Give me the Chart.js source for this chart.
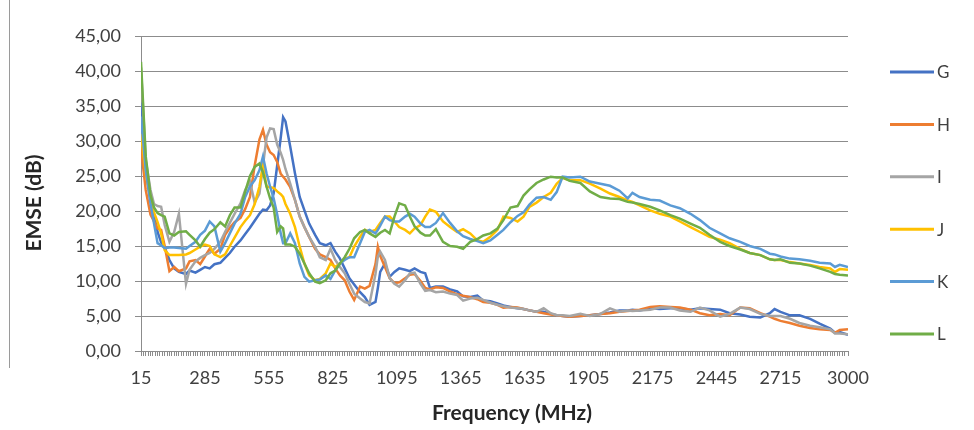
<!DOCTYPE html>
<html>
<head>
<meta charset="utf-8">
<script src="https://cdn.jsdelivr.net/npm/chart.js@4.4.1/dist/chart.umd.min.js"></script>
<style>
html, body { margin: 0; padding: 0; background: #fff; }
</style>
</head>
<body>
<canvas id="emse-graph" width="974" height="430"></canvas>
<script>
// frequency points (MHz)
var freq = [15, 35, 55, 70, 85, 100, 115,
  135, 155, 175, 205, 220, 245, 265, 285, 305, 325, 350, 370, 390, 410, 435, 455, 475, 495, 515,
  530, 545, 560, 575, 590, 605, 615, 625,
  645, 665, 685, 705, 725, 750, 770, 795, 815, 835, 855, 875, 895, 915, 940, 960, 980, 1005,
  1015, 1025,
  1045, 1065, 1085, 1105, 1130, 1150, 1170, 1195, 1215, 1235,
  1260, 1290, 1320, 1350, 1375, 1405, 1435, 1460, 1490, 1520, 1545, 1575, 1605, 1630, 1655, 1685, 1715, 1745, 1770, 1795, 1825,
  1870, 1910, 1955, 1995, 2035,
  2070, 2090,
  2120, 2165, 2205, 2250, 2290, 2335, 2375, 2415, 2460, 2500, 2545, 2585, 2630, 2670,
  2690,
  2715, 2755, 2795, 2840, 2880, 2925,
  2945, 2965, 3000];

var seriesG = [35.5, 26.0, 21.5, 19.5, 17.0, 15.5, 14.8,
  13.0, 11.8, 11.3, 11.0, 11.5, 11.2, 11.6, 12.0, 11.8, 12.4, 12.6, 13.3, 14.0, 14.9, 15.8, 16.7, 17.6, 18.6, 19.6,
  20.2, 20.1, 20.8, 22.5, 26.5, 30.5, 33.4, 32.8,
  29.2, 25.4, 22.0, 20.1, 18.2, 16.6, 15.4, 15.1, 15.4, 14.2, 13.2, 11.8, 10.4, 9.5, 8.4, 7.7, 6.6, 7.0,
  9.0, 11.3,
  12.5, 10.6, 11.3, 11.8, 11.6, 11.4, 11.8, 11.3, 11.1, 9.0,
  9.2, 9.2, 8.8, 8.5, 7.8, 7.7, 7.9, 7.2, 7.1, 6.8, 6.5, 6.3, 6.1, 6.0, 5.8, 5.6, 5.6, 5.3, 5.1, 5.0, 4.9,
  5.0, 5.1, 5.3, 5.5, 5.8,
  5.8, 5.9,
  5.8, 6.1, 6.0, 6.1, 6.1, 5.9, 6.1, 6.0, 5.9, 5.4, 5.2, 4.9, 4.8, 5.4,
  6.0,
  5.6, 5.1, 5.1, 4.6, 3.9, 3.2,
  2.6, 2.7, 2.3];

var seriesH = [29.0, 23.0, 19.5, 18.5, 17.5, 17.3, 15.0,
  11.4, 12.0, 11.4, 11.8, 12.8, 13.0, 12.4, 13.5, 14.6, 13.9, 14.6, 16.6, 17.6, 18.4, 19.0, 20.3, 22.0, 26.5, 30.2,
  31.6, 29.5, 28.4, 28.0, 27.0, 25.3, 24.9, 24.5,
  23.4, 21.6, 19.2, 17.7, 16.3, 14.6, 13.8, 13.4, 13.0, 11.8, 10.8, 10.1, 8.5, 7.3, 9.2, 8.9, 9.3, 12.4,
  14.9, 13.6,
  12.0, 10.4, 9.7, 9.8, 10.4, 10.9, 11.0, 10.0, 9.0, 8.8,
  9.1, 9.0, 8.5, 8.1, 7.9, 7.7, 7.4, 7.0, 6.9, 6.6, 6.2, 6.3, 6.2, 6.0, 5.8, 5.6, 5.4, 5.2, 5.1, 5.0, 4.9,
  5.0, 5.1, 5.3, 5.4, 5.6,
  5.7, 5.8,
  5.9, 6.3, 6.4, 6.3, 6.2, 5.9, 5.4, 5.1, 5.3, 5.1, 6.2, 6.1, 5.4, 4.9,
  4.6,
  4.3, 4.0, 3.6, 3.3, 3.1, 3.0,
  2.6, 3.0, 3.1];

var seriesI = [40.5, 27.3, 23.0, 21.0, 20.7, 20.6, 18.0,
  15.6, 17.0, 19.6, 9.6, 11.6, 12.8, 13.3, 13.7, 14.0, 14.6, 15.6, 17.0, 18.3, 19.6, 21.1, 23.0, 24.2, 21.2, 22.5,
  26.5, 30.5, 31.8, 31.7, 29.5, 28.3, 27.3, 26.0,
  23.9, 21.6, 19.2, 17.7, 16.3, 14.9, 13.4, 13.0, 14.6, 13.0, 12.0, 11.1, 9.6, 8.2, 7.5, 7.0, 6.8, 11.0,
  13.5, 14.2,
  13.0, 10.4, 9.6, 9.2, 10.1, 11.1, 11.2, 9.6, 8.6, 8.7,
  8.4, 8.5, 8.2, 8.0, 7.2, 7.5, 7.6, 7.3, 6.9, 6.6, 6.4, 6.2, 6.1, 6.0, 5.8, 5.6, 6.1, 5.4, 5.1, 5.1, 5.0,
  5.3, 5.0, 5.3, 6.1, 5.6,
  5.8, 5.7,
  5.8, 5.9, 6.2, 6.2, 5.8, 5.6, 6.2, 5.8, 4.9, 5.3, 6.2, 6.0, 5.3, 5.0,
  5.0,
  5.0, 4.6, 4.0, 3.6, 3.4, 3.1,
  2.5, 2.5, 2.4];

var seriesJ = [31.0, 25.4, 21.6, 19.8, 18.4, 16.8, 14.4,
  13.7, 13.7, 13.7, 13.8, 14.0, 14.5, 14.9, 15.2, 15.0, 13.8, 13.4, 13.8, 15.0, 16.2, 17.7, 18.6, 19.4, 21.0, 23.5,
  26.5, 23.5, 23.4, 23.3, 22.8, 22.4, 22.0, 21.0,
  19.6, 17.7, 14.9, 12.5, 10.8, 10.1, 10.3, 11.1, 12.5, 12.0, 12.5, 13.2, 13.4, 14.9, 16.3, 17.3, 17.0, 17.3,
  17.8, 18.3,
  19.2, 19.2, 18.5, 17.7, 17.3, 16.8, 17.5, 18.0, 19.2, 20.2,
  19.9, 18.5, 17.7, 17.0, 17.4, 16.8, 15.8, 15.6, 16.3, 17.3, 19.2, 19.0, 18.5, 19.2, 20.6, 21.2, 22.0, 22.6, 23.9, 24.7, 24.4,
  24.4, 23.9, 23.2, 22.5, 22.0,
  21.5, 21.3,
  20.8, 20.1, 19.6, 19.2, 18.5, 17.7, 17.0, 16.3, 15.9, 15.4, 14.6, 14.0, 13.7, 13.1,
  13.0,
  13.0, 12.7, 12.5, 12.3, 12.0, 11.8,
  11.3, 11.7, 11.6];

var seriesK = [33.5, 25.8, 21.1, 18.2, 15.4, 15.1, 14.7,
  14.8, 14.8, 14.7, 14.6, 15.0, 15.6, 16.6, 17.2, 18.5, 17.8, 14.2, 15.4, 16.8, 18.2, 19.6, 22.0, 23.5, 24.4, 25.8,
  27.8, 25.4, 23.5, 21.8, 19.5, 16.8, 15.4, 15.4,
  16.8, 15.4, 12.5, 10.6, 9.9, 10.1, 10.2, 10.8, 10.3, 11.5, 12.5, 13.0, 13.4, 13.4, 15.4, 17.0, 17.3, 16.8,
  17.3, 17.9,
  19.2, 18.7, 18.5, 18.5, 19.2, 19.6, 19.2, 18.2, 17.7, 17.7,
  18.3, 19.7, 18.3, 17.1, 16.4, 16.0, 15.7, 15.4, 15.8, 16.6, 17.3, 18.4, 19.3, 19.8, 20.9, 21.9, 22.0, 21.6, 22.7, 24.9, 24.8,
  24.9, 24.2, 23.9, 23.6, 22.9,
  21.8, 22.6,
  22.0, 21.6, 21.5, 20.8, 20.4, 19.6, 18.7, 17.6, 16.8, 16.1, 15.6, 15.0, 14.6, 13.9,
  13.8,
  13.5, 13.2, 13.1, 12.9, 12.6, 12.5,
  12.0, 12.3, 12.0];

var seriesL = [41.3, 27.8, 22.3, 20.5, 19.7, 19.4, 19.2,
  16.8, 16.5, 17.0, 17.1, 16.6, 15.8, 14.9, 16.0, 16.9, 17.4, 18.4, 17.8, 19.4, 20.5, 20.5, 22.8, 25.0, 26.3, 26.8,
  25.5, 23.5, 21.8, 20.5, 17.0, 17.8, 17.5, 15.2,
  15.2, 14.9, 13.9, 12.5, 11.1, 9.9, 9.7, 10.1, 11.1, 11.5, 12.5, 13.4, 14.6, 16.1, 17.0, 17.3, 16.8, 16.3,
  16.6, 16.9,
  17.3, 16.8, 19.2, 21.1, 20.8, 19.2, 17.8, 16.9, 16.5, 16.5,
  17.4, 15.6, 15.0, 14.9, 14.6, 15.6, 16.0, 16.5, 16.8, 17.5, 18.7, 20.5, 20.7, 22.2, 23.1, 24.0, 24.5, 24.9, 24.8, 24.8, 24.3,
  24.0, 22.8, 22.0, 21.8, 21.7,
  21.3, 21.2,
  21.0, 20.6, 20.1, 19.4, 18.9, 18.2, 17.6, 16.6, 15.6, 15.0, 14.5, 14.0, 13.7, 13.1,
  13.0,
  13.1, 12.6, 12.5, 12.2, 11.8, 11.3,
  11.0, 10.9, 10.8];

var seriesNames = ["G", "H", "I", "J", "K", "L"];
var seriesColors = ["#4472C4", "#ED7D31", "#A5A5A5", "#FFC000", "#5B9BD5", "#70AD47"];
var xTickLabels = [15, 285, 555, 825, 1095, 1365, 1635, 1905, 2175, 2445, 2715, 3000];

var allSeries = [seriesG, seriesH, seriesI, seriesJ, seriesK, seriesL];
var textColor = "#404040";
var gridColor = "#8c8c8c";

function points(vals) {
  return vals.map(function (v, i) { return { x: freq[i], y: v }; });
}

// legend + axis titles + frame edge, drawn like the excel sheet
var excelDecor = {
  id: "excelDecor",
  beforeDraw: function (chart) {
    var ctx = chart.ctx;
    ctx.save();
    ctx.fillStyle = "#fff";
    ctx.fillRect(0, 0, chart.width, chart.height);
    ctx.strokeStyle = "#9a9a9a";
    ctx.lineWidth = 1;
    ctx.beginPath();
    ctx.moveTo(9.5, 0);
    ctx.lineTo(9.5, 368);
    ctx.stroke();
    ctx.restore();
  },
  afterDraw: function (chart) {
    var ctx = chart.ctx;
    ctx.save();
    chart.data.datasets.forEach(function (ds, i) {
      var y = 72 + i * 52.4;
      ctx.strokeStyle = ds.borderColor;
      ctx.lineWidth = 3;
      ctx.beginPath();
      ctx.moveTo(890, y);
      ctx.lineTo(934, y);
      ctx.stroke();
      ctx.fillStyle = textColor;
      ctx.font = "17px Lato";
      ctx.textAlign = "left";
      ctx.textBaseline = "middle";
      ctx.fillText(ds.label, 937, y + 1);
    });
    ctx.fillStyle = "#262626";
    ctx.font = "bold 21px Lato";
    ctx.textAlign = "center";
    ctx.textBaseline = "middle";
    ctx.fillText("Frequency (MHz)", 512, 413);
    ctx.translate(34, 203);
    ctx.rotate(-Math.PI / 2);
    ctx.fillText("EMSE (dB)", 0, 0);
    ctx.restore();
  }
};

var chart = document.getElementById("emse-graph").getContext("2d");
var line_graph = new Chart(chart, {
  type: "line",
  data: {
    datasets: allSeries.map(function (vals, i) {
      return {
        label: seriesNames[i],
        data: points(vals),
        borderColor: seriesColors[i],
        backgroundColor: seriesColors[i],
        borderWidth: 2.5,
        pointRadius: 0,
        fill: false,
        tension: 0,
        order: allSeries.length - i
      };
    })
  },
  options: {
    responsive: false,
    animation: false,
    devicePixelRatio: 1,
    layout: { padding: { left: 0, right: 126, top: 36, bottom: 0 } },
    plugins: { legend: { display: false }, tooltip: { enabled: false } },
    scales: {
      x: {
        type: "linear",
        min: 15,
        max: 3000,
        afterBuildTicks: function (scale) {
          var t = [];
          for (var v = 15; v <= 2985; v += 10) t.push({ value: v });
          t.push({ value: 3000 });
          scale.ticks = t;
        },
        afterFit: function (scale) { scale.height = 79; },
        border: { color: gridColor, width: 1 },
        grid: { drawOnChartArea: false, drawTicks: true, tickLength: 5, color: gridColor },
        ticks: {
          autoSkip: false,
          maxRotation: 0,
          padding: 11,
          color: textColor,
          font: { family: "Lato", size: 18 },
          callback: function (v) { return xTickLabels.indexOf(v) >= 0 ? String(v) : ""; }
        }
      },
      y: {
        min: 0,
        max: 45,
        afterFit: function (scale) { scale.width = 141; },
        border: { color: gridColor, width: 1 },
        grid: { color: gridColor, tickLength: 6 },
        ticks: {
          stepSize: 5,
          padding: 14,
          color: textColor,
          font: { family: "Lato", size: 18 },
          callback: function (v) { return v.toFixed(2).replace(".", ","); }
        }
      }
    }
  },
  plugins: [excelDecor]
});
</script>
</body>
</html>
